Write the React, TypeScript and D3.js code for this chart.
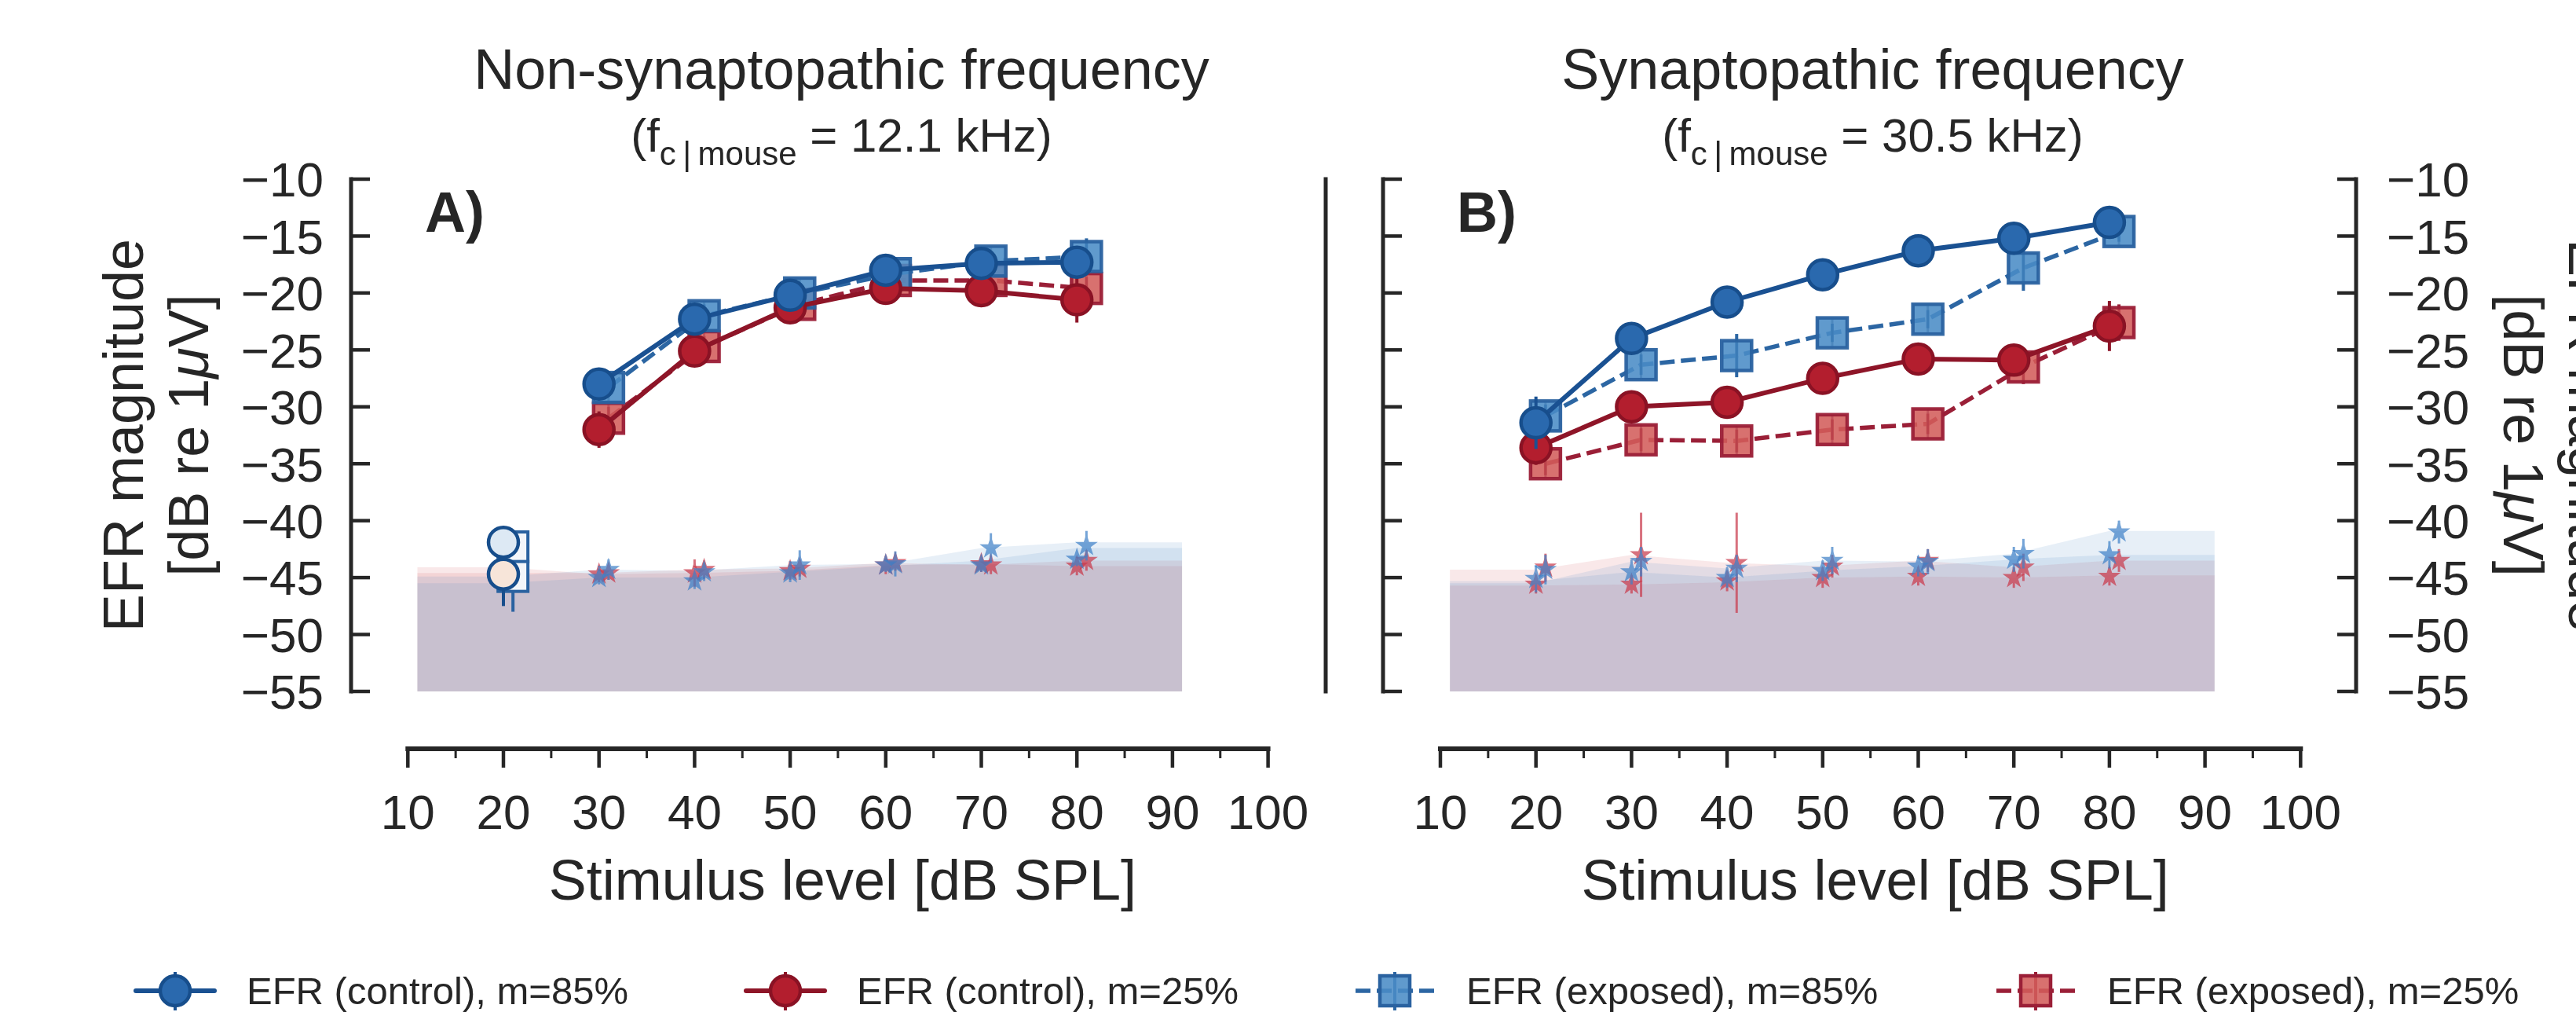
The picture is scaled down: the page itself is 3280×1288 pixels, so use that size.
import React from 'react';
import * as d3 from 'd3';

const FONT = '"Liberation Sans", Arial, Helvetica, sans-serif';
const INK = '#262626';
const W = 3280;
const H = 1288;

// ---------------- data ----------------
const levelsA = [30, 40, 50, 60, 70, 80];
const levelsB = [20, 30, 40, 50, 60, 70, 80];
const exposedShift = 1;
const fillLevels = [11, 20, 30, 40, 50, 60, 70, 80, 91];

const yTicks = [-10, -15, -20, -25, -30, -35, -40, -45, -50, -55];
const xTicks = [10, 20, 30, 40, 50, 60, 70, 80, 90, 100];
const xMinorTicks = [15, 25, 35, 45, 55, 65, 75, 85, 95];

// Panel A (non-synaptopathic)
const A_ctrl85 = [-28.0, -22.3, -20.2, -18.0, -17.4, -17.3];
const A_ctrl85_err = [0.7, 0.6, 0.5, 0.5, 0.6, 0.9];
const A_ctrl25 = [-32.0, -25.1, -21.3, -19.6, -19.8, -20.6];
const A_ctrl25_err = [1.6, 0.8, 0.7, 0.6, 1.4, 2.0];
const A_exp85 = [-28.3, -22.0, -20.0, -18.3, -17.2, -16.8];
const A_exp85_err = [0.8, 1.0, 0.7, 0.7, 0.8, 1.6];
const A_exp25 = [-31.0, -24.7, -21.0, -18.9, -18.9, -19.6];
const A_exp25_err = [1.0, 0.9, 0.7, 0.6, 0.8, 1.0];

const A_nf_ctrl85 = [-45.0, -45.3, -44.6, -43.9, -43.9, -43.4];
const A_nf_ctrl85_err = [0.6, 0.7, 0.8, 0.6, 0.6, 0.6];
const A_nf_ctrl25 = [-44.7, -44.6, -44.4, -43.9, -43.8, -44.0];
const A_nf_ctrl25_err = [0.7, 1.2, 0.8, 0.8, 0.7, 0.8];
const A_nf_exp85 = [-44.3, -44.5, -43.9, -43.8, -42.4, -42.2];
const A_nf_exp85_err = [0.9, 0.8, 1.3, 1.1, 1.3, 1.3];
const A_nf_exp25 = [-44.6, -44.3, -44.2, -43.7, -43.9, -43.5];
const A_nf_exp25_err = [0.6, 0.8, 0.7, 0.7, 0.8, 0.9];

const A_fill_ctrl85 = [-45.5, -45.5, -45.0, -45.0, -44.5, -44.0, -43.5, -42.4, -42.4];
const A_fill_ctrl25 = [-44.1, -44.1, -44.7, -44.6, -44.4, -43.9, -43.8, -44.0, -44.0];
const A_fill_exp85 = [-44.9, -44.9, -44.3, -44.4, -43.9, -43.8, -42.4, -41.9, -41.9];
const A_fill_exp25 = [-44.6, -44.6, -44.6, -44.3, -44.2, -43.7, -43.9, -43.5, -43.5];

// below-noise-floor (open) markers at 20 dB SPL, panel A
const A_openLevel = 20;
const A_open_ctrl = [-41.9, -44.7];
const A_open_ctrl_err = [0.8, 2.8];
const A_open_exp = [-42.3, -44.9];
const A_open_exp_err = [0.8, 3.1];

// Panel B (synaptopathic)
const B_ctrl85 = [-31.4, -24.0, -20.8, -18.4, -16.3, -15.2, -13.8];
const B_ctrl85_err = [2.3, 0.8, 0.6, 0.6, 0.6, 0.7, 0.8];
const B_ctrl25 = [-33.6, -30.0, -29.6, -27.5, -25.8, -25.9, -22.9];
const B_ctrl25_err = [1.5, 1.0, 1.0, 0.8, 1.2, 1.2, 2.2];
const B_exp85 = [-30.8, -26.3, -25.5, -23.5, -22.3, -17.8, -14.6];
const B_exp85_err = [1.0, 0.9, 1.9, 0.8, 0.8, 2.0, 0.9];
const B_exp25 = [-35.0, -32.9, -33.0, -32.0, -31.5, -26.5, -22.6];
const B_exp25_err = [1.0, 1.0, 1.0, 0.9, 0.9, 1.5, 1.6];

const B_nf_ctrl85 = [-45.1, -44.5, -45.0, -44.4, -44.0, -43.4, -43.0];
const B_nf_ctrl85_err = [1.2, 1.1, 0.9, 0.9, 0.9, 1.1, 1.2];
const B_nf_ctrl25 = [-45.6, -45.6, -45.3, -45.0, -44.9, -45.0, -44.9];
const B_nf_ctrl25_err = [0.8, 0.8, 0.9, 0.9, 0.8, 0.9, 0.8];
const B_nf_exp85 = [-44.3, -43.6, -44.2, -43.5, -43.6, -42.9, -41.0];
const B_nf_exp85_err = [1.3, 1.3, 1.2, 1.2, 1.1, 1.3, 1.0];
const B_nf_exp25 = [-44.1, -43.0, -43.7, -44.0, -43.5, -44.1, -43.5];
const B_nf_exp25_err = [1.2, 3.7, 4.4, 1.0, 1.0, 1.2, 1.0];

const B_fill_ctrl85 = [-45.3, -45.3, -44.5, -45.0, -44.4, -44.0, -43.4, -43.0, -43.0];
const B_fill_ctrl25 = [-45.7, -45.7, -45.6, -45.4, -45.0, -44.9, -45.0, -44.8, -44.8];
const B_fill_exp85 = [-45.5, -45.5, -43.6, -44.2, -43.5, -43.6, -42.9, -40.9, -40.9];
const B_fill_exp25 = [-44.3, -44.3, -43.0, -43.7, -44.0, -43.5, -44.1, -43.5, -43.5];

const legendLabels = [
  'EFR (control), m=85%',
  'EFR (control), m=25%',
  'EFR (exposed), m=85%',
  'EFR (exposed), m=25%',
];

// ---------------- styles ----------------
const COL = {
  ctrl85: { line: '#1a5192', fill: '#2a69ae', edge: '#174e8c' },
  ctrl25: { line: '#8e1528', fill: '#b31e2e', edge: '#8a1224' },
  exp85: { line: '#2c66a3', fill: '#4a8cc6', edge: '#2a62a0' },
  exp25: { line: '#9a1f37', fill: '#d35d5b', edge: '#9b1f37' },
};
const STAR = { blue: '#3f80c7', red: '#c93a4c' };
const BAND = { blue: 'rgb(66,128,196)', red: 'rgb(205,80,85)' };

const yScale = d3.scaleLinear().domain([-10, -55]).range([228, 880]);

type Series = {
  key: 'ctrl85' | 'ctrl25' | 'exp85' | 'exp25';
  levels: number[];
  values: number[];
  errs: number[];
  nf: number[];
  nfErr: number[];
  fill: number[];
  shift: number;
};

type PanelCfg = {
  x: d3.ScaleLinear<number, number>;
  leftSpine: number;
  rightSpine: number;
  leftTicks: boolean;
  leftLabels: boolean;
  rightTicks: boolean;
  rightLabels: boolean;
  letter: string;
  title: string;
  fc: string;
  series: Series[];
  open: boolean;
};

const mk = (
  key: Series['key'], levels: number[], values: number[], errs: number[],
  nf: number[], nfErr: number[], fill: number[]
): Series => ({
  key, levels, values, errs, nf, nfErr, fill,
  shift: key.startsWith('exp') ? exposedShift : 0,
});

const panels: PanelCfg[] = [
  {
    x: d3.scaleLinear().domain([10, 100]).range([519.3, 1614.6]),
    leftSpine: 447, rightSpine: 1688,
    leftTicks: true, leftLabels: true, rightTicks: false, rightLabels: false,
    letter: 'A)', title: 'Non-synaptopathic frequency', fc: '12.1',
    open: true,
    series: [
      mk('ctrl85', levelsA, A_ctrl85, A_ctrl85_err, A_nf_ctrl85, A_nf_ctrl85_err, A_fill_ctrl85),
      mk('ctrl25', levelsA, A_ctrl25, A_ctrl25_err, A_nf_ctrl25, A_nf_ctrl25_err, A_fill_ctrl25),
      mk('exp85', levelsA, A_exp85, A_exp85_err, A_nf_exp85, A_nf_exp85_err, A_fill_exp85),
      mk('exp25', levelsA, A_exp25, A_exp25_err, A_nf_exp25, A_nf_exp25_err, A_fill_exp25),
    ],
  },
  {
    x: d3.scaleLinear().domain([10, 100]).range([1834, 2929.3]),
    leftSpine: 1761, rightSpine: 3000,
    leftTicks: true, leftLabels: false, rightTicks: true, rightLabels: true,
    letter: 'B)', title: 'Synaptopathic frequency', fc: '30.5',
    open: false,
    series: [
      mk('ctrl85', levelsB, B_ctrl85, B_ctrl85_err, B_nf_ctrl85, B_nf_ctrl85_err, B_fill_ctrl85),
      mk('ctrl25', levelsB, B_ctrl25, B_ctrl25_err, B_nf_ctrl25, B_nf_ctrl25_err, B_fill_ctrl25),
      mk('exp85', levelsB, B_exp85, B_exp85_err, B_nf_exp85, B_nf_exp85_err, B_fill_exp85),
      mk('exp25', levelsB, B_exp25, B_exp25_err, B_nf_exp25, B_nf_exp25_err, B_fill_exp25),
    ],
  },
];

const fmt = (v: number) => (v < 0 ? '\u2212' + Math.abs(v) : String(v));
const starPath = d3.symbol().type(d3.symbolStar).size(260)() as string;
const CIRCLE_R = 19;
const SQ = 38;
const SOLID_W = 6;
const DASH_W = 5.5;

function Panel({ p }: { p: PanelCfg }) {
  const x = p.x;
  const y = yScale;
  const center = (p.leftSpine + p.rightSpine) / 2;
  const area = d3
    .area<[number, number]>()
    .x((d) => x(d[0]))
    .y0(y(-55))
    .y1((d) => y(d[1]));
  const line = d3
    .line<[number, number]>()
    .x((d) => x(d[0]))
    .y((d) => y(d[1]));

  const bandOrder: Series['key'][] = ['ctrl25', 'exp25', 'ctrl85', 'exp85'];
  const byKey = (k: Series['key']) => p.series.find((s) => s.key === k)!;

  const xAxisY = 953;
  const xs = x(10) - 3;
  const xe = x(100) + 3;

  return (
    <g>
      {/* noise floor bands */}
      {bandOrder.map((k) => {
        const s = byKey(k);
        const pts = fillLevels.map((l, i) => [l, s.fill[i]] as [number, number]);
        return (
          <path
            key={'band' + k}
            d={area(pts) as string}
            fill={k.endsWith('85') ? BAND.blue : BAND.red}
            fillOpacity={0.13}
          />
        );
      })}

      {/* noise floor stars */}
      {(['ctrl25', 'exp25', 'ctrl85', 'exp85'] as Series['key'][]).map((k) => {
        const s = byKey(k);
        const c = k.endsWith('85') ? STAR.blue : STAR.red;
        return (
          <g key={'nf' + k} opacity={0.72}>
            {s.levels.map((l, i) => {
              const cx = x(l + s.shift);
              const cy = y(s.nf[i]);
              return (
                <g key={i}>
                  <line
                    x1={cx} x2={cx}
                    y1={y(s.nf[i] + s.nfErr[i])} y2={y(s.nf[i] - s.nfErr[i])}
                    stroke={c} strokeWidth={3}
                  />
                  <path d={starPath} transform={`translate(${cx},${cy})`} fill={c} />
                </g>
              );
            })}
          </g>
        );
      })}

      {/* open markers (below noise floor) */}
      {p.open && (
        <g>
          {A_open_exp.map((v, i) => {
            const cx = x(A_openLevel + exposedShift);
            return (
              <g key={'oe' + i}>
                <line x1={cx} x2={cx} y1={y(v)} y2={y(v - A_open_exp_err[i])}
                  stroke={COL.exp85.edge} strokeWidth={4} />
                <rect x={cx - SQ / 2} y={y(v) - SQ / 2} width={SQ} height={SQ}
                  fill="#f3f6fa" stroke={COL.exp85.edge} strokeWidth={4} />
              </g>
            );
          })}
          {A_open_ctrl.map((v, i) => {
            const cx = x(A_openLevel);
            return (
              <g key={'oc' + i}>
                <line x1={cx} x2={cx} y1={y(v)} y2={y(v - A_open_ctrl_err[i])}
                  stroke={COL.ctrl85.edge} strokeWidth={4} />
                <circle cx={cx} cy={y(v)} r={CIRCLE_R}
                  fill={i === 0 ? '#dde9f4' : '#f7e5d9'}
                  stroke={COL.ctrl85.edge} strokeWidth={4.5} />
              </g>
            );
          })}
        </g>
      )}

      {/* exposed series (dashed, squares) */}
      {(['exp25', 'exp85'] as Series['key'][]).map((k) => {
        const s = byKey(k);
        const c = COL[k];
        const pts = s.levels.map((l, i) => [l + s.shift, s.values[i]] as [number, number]);
        return (
          <g key={k}>
            <path d={line(pts) as string} fill="none" stroke={c.line}
              strokeWidth={DASH_W} strokeDasharray="19,8" />
            {pts.map((pt, i) => {
              const cx = x(pt[0]);
              const cy = y(pt[1]);
              return (
                <g key={i}>
                  <line x1={cx} x2={cx} y1={y(pt[1] + s.errs[i])} y2={y(pt[1] - s.errs[i])}
                    stroke={c.line} strokeWidth={4} />
                  <rect x={cx - SQ / 2} y={cy - SQ / 2} width={SQ} height={SQ}
                    fill={c.fill} fillOpacity={0.88} stroke={c.edge} strokeWidth={4.5} strokeOpacity={0.95} />
                  <line x1={cx} x2={cx} y1={cy - SQ / 2} y2={cy + SQ / 2}
                    stroke={c.line} strokeWidth={3} strokeOpacity={0.35} />
                </g>
              );
            })}
          </g>
        );
      })}

      {/* control series (solid, circles) */}
      {(['ctrl25', 'ctrl85'] as Series['key'][]).map((k) => {
        const s = byKey(k);
        const c = COL[k];
        const pts = s.levels.map((l, i) => [l + s.shift, s.values[i]] as [number, number]);
        return (
          <g key={k}>
            <path d={line(pts) as string} fill="none" stroke={c.line} strokeWidth={SOLID_W} />
            {pts.map((pt, i) => {
              const cx = x(pt[0]);
              const cy = y(pt[1]);
              return (
                <g key={i}>
                  <line x1={cx} x2={cx} y1={y(pt[1] + s.errs[i])} y2={y(pt[1] - s.errs[i])}
                    stroke={c.line} strokeWidth={4} />
                  <circle cx={cx} cy={cy} r={CIRCLE_R} fill={c.fill} stroke={c.edge} strokeWidth={4.5} />
                </g>
              );
            })}
          </g>
        );
      })}

      {/* y spines */}
      <line x1={p.leftSpine} x2={p.leftSpine} y1={y(-10) - 2.5} y2={y(-55) + 2.5}
        stroke={INK} strokeWidth={5} />
      <line x1={p.rightSpine} x2={p.rightSpine} y1={y(-10) - 2.5} y2={y(-55) + 2.5}
        stroke={INK} strokeWidth={5} />
      {p.leftTicks && yTicks.map((t) => (
        <line key={'lt' + t} x1={p.leftSpine} x2={p.leftSpine + 24} y1={y(t)} y2={y(t)}
          stroke={INK} strokeWidth={4.5} />
      ))}
      {p.rightTicks && yTicks.map((t) => (
        <line key={'rt' + t} x1={p.rightSpine - 24} x2={p.rightSpine} y1={y(t)} y2={y(t)}
          stroke={INK} strokeWidth={4.5} />
      ))}
      {p.leftLabels && yTicks.map((t) => (
        <text key={'ll' + t} x={p.leftSpine - 35} y={y(t)} dy="0.36em" textAnchor="end"
          fontSize={62} fill={INK} fontFamily={FONT}>{fmt(t)}</text>
      ))}
      {p.rightLabels && yTicks.map((t) => (
        <text key={'rl' + t} x={p.rightSpine + 39} y={y(t)} dy="0.36em" textAnchor="start"
          fontSize={62} fill={INK} fontFamily={FONT}>{fmt(t)}</text>
      ))}

      {/* x axis */}
      <line x1={xs} x2={xe} y1={xAxisY} y2={xAxisY} stroke={INK} strokeWidth={6} />
      {xTicks.map((t) => (
        <g key={'xt' + t}>
          <line x1={x(t)} x2={x(t)} y1={xAxisY} y2={xAxisY + 24} stroke={INK} strokeWidth={4.5} />
          <text x={x(t)} y={1055} textAnchor="middle" fontSize={62} fill={INK} fontFamily={FONT}>{t}</text>
        </g>
      ))}
      {xMinorTicks.map((t) => (
        <line key={'xm' + t} x1={x(t)} x2={x(t)} y1={xAxisY} y2={xAxisY + 12} stroke={INK} strokeWidth={3} />
      ))}
      <text x={(x(10) + x(100)) / 2 + 6} y={1145} textAnchor="middle" fontSize={72} fill={INK}
        fontFamily={FONT}>Stimulus level [dB SPL]</text>

      {/* letter */}
      <text x={p.leftSpine + 94} y={295} fontSize={72} fontWeight="bold" fill={INK} fontFamily={FONT}>
        {p.letter}
      </text>

      {/* titles */}
      <text x={center + 4} y={113} textAnchor="middle" fontSize={72} fill={INK} fontFamily={FONT}>
        {p.title}
      </text>
      <text x={center + 4} y={193} textAnchor="middle" fontSize={60} fill={INK} fontFamily={FONT}>
        (f
        <tspan fontSize={42} dy={17}>{'c\u2009|\u2009mouse'}</tspan>
        <tspan dy={-17}>{` = ${p.fc} kHz)`}</tspan>
      </text>
    </g>
  );
}

function Legend() {
  const cy = 1261;
  const centers = [223, 1000, 1776, 2592];
  const keys: Series['key'][] = ['ctrl85', 'ctrl25', 'exp85', 'exp25'];
  return (
    <g>
      {keys.map((k, i) => {
        const c = COL[k];
        const cx = centers[i];
        const isExp = k.startsWith('exp');
        return (
          <g key={k}>
            <line x1={cx - 50} x2={cx + 50} y1={cy} y2={cy} stroke={c.line} strokeWidth={isExp ? DASH_W : SOLID_W}
              strokeDasharray={isExp ? '19,8' : undefined} strokeLinecap={isExp ? 'butt' : 'round'} />
            <line x1={cx} x2={cx} y1={cy - 24} y2={cy + 25} stroke={c.line} strokeWidth={4} />
            {isExp ? (
              <rect x={cx - SQ / 2} y={cy - SQ / 2} width={SQ} height={SQ} fill={c.fill}
                fillOpacity={0.88} stroke={c.edge} strokeWidth={4.5} />
            ) : (
              <circle cx={cx} cy={cy} r={CIRCLE_R} fill={c.fill} stroke={c.edge} strokeWidth={4.5} />
            )}
            <text x={cx + 91} y={cy + 17} fontSize={49} fill={INK} fontFamily={FONT}>{legendLabels[i]}</text>
          </g>
        );
      })}
    </g>
  );
}

export default function App() {
  return (
    <svg width={W} height={H} viewBox={`0 0 ${W} ${H}`}
      style={{ position: 'absolute', left: 0, top: 0, background: '#ffffff' }}>
      <rect x={0} y={0} width={W} height={H} fill="#ffffff" />
      {panels.map((p, i) => (
        <Panel key={i} p={p} />
      ))}
      {/* y labels */}
      <text transform="translate(182,554) rotate(-90)" textAnchor="middle" fontSize={72} fill={INK}
        fontFamily={FONT}>EFR magnitude</text>
      <text transform="translate(265,554) rotate(-90)" textAnchor="middle" fontSize={72} fill={INK}
        fontFamily={FONT}>[dB re 1<tspan fontStyle="italic">μ</tspan>V]</text>
      <text transform="translate(3271,554) rotate(90)" textAnchor="middle" fontSize={72} fill={INK}
        fontFamily={FONT}>EFR magnitude</text>
      <text transform="translate(3188,554) rotate(90)" textAnchor="middle" fontSize={72} fill={INK}
        fontFamily={FONT}>[dB re 1<tspan fontStyle="italic">μ</tspan>V]</text>
      <Legend />
    </svg>
  );
}
